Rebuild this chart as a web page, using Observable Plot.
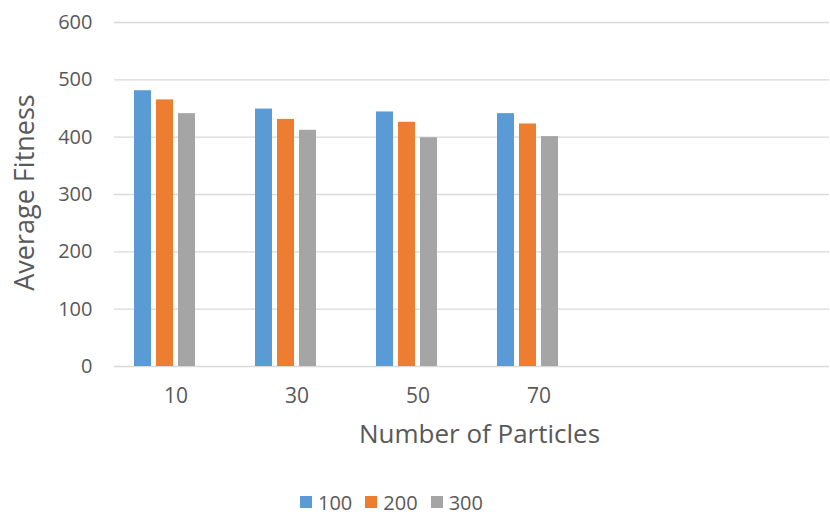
<!DOCTYPE html>
<html>
<head>
<meta charset="utf-8">
<script src="https://cdn.jsdelivr.net/npm/d3@7"></script>
<script src="https://cdn.jsdelivr.net/npm/@observablehq/plot@0.6"></script>
<style>
  html, body { margin: 0; padding: 0; background: #fff; }
  #chart { width: 830px; font-family: "Open Sans", sans-serif; }
  .legend { display: flex; align-items: center; height: 34px; margin-top: 5px; margin-left: 300px; font-family: "Open Sans", sans-serif; font-size: 20px; color: #595959; }
  .legend .item { display: flex; align-items: center; margin-right: 13px; }
  .legend .sw { width: 12px; height: 12px; margin-right: 6px; }
</style>
</head>
<body>
<div id="chart"></div>
<script>
const categories = ["10", "30", "50", "70"];
const seriesNames = ["100", "200", "300"];
const seriesColors = ["#5B9BD5", "#ED7D31", "#A5A5A5"];
const values100 = [481, 449, 444, 441];
const values200 = [465, 431, 426, 423];
const values300 = [441, 412, 399, 401];
const yTicks = [0, 100, 200, 300, 400, 500, 600];
const xTitle = "Number of Particles";
const yTitle = "Average Fitness";

const seriesValues = [values100, values200, values300];
const rows = seriesNames.map((s, i) => categories.map((c, j) => ({cat: c, series: s, value: seriesValues[i][j]})));
const offsets = [-22, 0, 22];
const textColor = "#595959";

const chart = Plot.plot({
  width: 830,
  height: 480,
  marginLeft: 114,
  marginRight: 1,
  marginTop: 22,
  marginBottom: 114,
  style: {fontFamily: "Open Sans, sans-serif", color: textColor, background: "#fff"},
  x: {type: "band", domain: categories, range: [103, 588.6], paddingInner: 0.86, paddingOuter: 0.43, align: 0.5},
  y: {domain: [0, 600]},
  marks: [
    Plot.ruleY(yTicks, {stroke: "#d9d9d9", strokeWidth: 1.4}),
    ...rows.map((r, i) => Plot.barY(r, {x: "cat", y: "value", fill: seriesColors[i], dx: offsets[i]})),
    Plot.axisY({ticks: yTicks, tickSize: 0, tickPadding: 22, fontSize: 20, label: null, fill: textColor}),
    Plot.axisX({tickSize: 0, tickPadding: 22, fontSize: 21, dx: 11, label: null, fill: textColor}),
    Plot.text([xTitle], {frameAnchor: "bottom", dy: 76, dx: 7.5, fontSize: 26, fill: textColor}),
    Plot.text([yTitle], {frameAnchor: "left", textAnchor: "middle", lineAnchor: "middle", dx: -89, dy: -2, rotate: -90, fontSize: 27, fill: textColor})
  ]
});
document.getElementById("chart").appendChild(chart);

const legend = document.createElement("div");
legend.className = "legend";
seriesNames.forEach((s, i) => {
  const item = document.createElement("div");
  item.className = "item";
  const sw = document.createElement("span");
  sw.className = "sw";
  sw.style.background = seriesColors[i];
  const t = document.createElement("span");
  t.textContent = s;
  item.appendChild(sw);
  item.appendChild(t);
  legend.appendChild(item);
});
document.getElementById("chart").appendChild(legend);
</script>
</body>
</html>
